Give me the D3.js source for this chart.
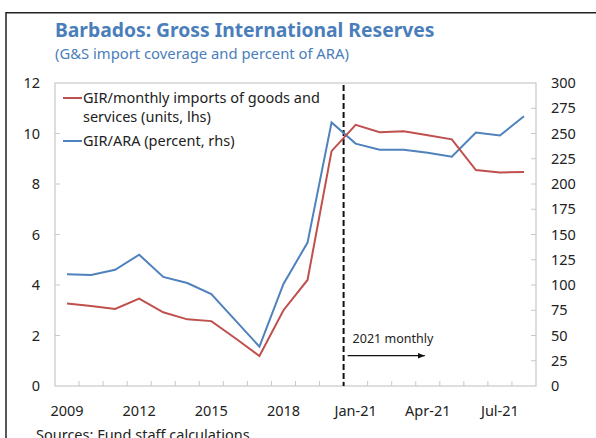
<!DOCTYPE html>
<html>
<head>
<meta charset="utf-8">
<script src="https://cdn.jsdelivr.net/npm/d3@7"></script>
<style>
  body { margin: 0; background: #fff; }
  svg { display: block; font-family: "Noto Sans", "Open Sans", sans-serif; }
</style>
</head>
<body>
<div id="chart"></div>
<script>
var categories = ["2009", "2010", "2011", "2012", "2013", "2014", "2015", "2016", "2017", "2018", "2019", "2020",
  "Jan-21", "Feb-21", "Mar-21", "Apr-21", "May-21", "Jun-21", "Jul-21", "Aug-21"];
var tickLabels = ["2009", "2012", "2015", "2018", "Jan-21", "Apr-21", "Jul-21"];

// GIR / monthly imports of goods and services (units, lhs)
var importCover = [3.27, 3.17, 3.05, 3.46, 2.92, 2.64, 2.57, 1.89, 1.19, 3.0, 4.2, 9.3,
  10.34, 10.05, 10.09, 9.93, 9.77, 8.55, 8.46, 8.48];
// GIR / ARA (percent, rhs)
var araPercent = [110.6, 110, 115, 130, 108, 102, 91, 65, 39, 101, 142, 261,
  240, 234, 234, 231, 227, 251, 248, 267];

var leftTicks = [0, 2, 4, 6, 8, 10, 12];
var rightTicks = [0, 25, 50, 75, 100, 125, 150, 175, 200, 225, 250, 275, 300];

var width = 596, height = 438;
var pLeft = 55, pRight = 536, pTop = 83, pBottom = 386;
var red = "#c0504d", blue = "#4f81bd";
var fs = 14.5;

var svg = d3.select("#chart").append("svg")
  .attr("width", width)
  .attr("height", height);

// outer frame (right/bottom edges run off the picture)
svg.append("path")
  .attr("d", "M6," + (height + 5) + "V12.7H" + (width + 5))
  .attr("fill", "none")
  .attr("stroke", "#222")
  .attr("stroke-width", 1.5);

var x = d3.scaleBand().domain(categories).range([pLeft, pRight]).padding(0);
var yL = d3.scaleLinear().domain([0, 12]).range([pBottom, pTop]);
var yR = d3.scaleLinear().domain([0, 300]).range([pBottom, pTop]);
function cx(d) { return x(d) + x.bandwidth() / 2; }

// title
svg.append("text")
  .attr("x", 55).attr("y", 37)
  .attr("fill", "#4a7ebb")
  .attr("font-weight", "bold")
  .attr("font-size", 19.3)
  .text("Barbados: Gross International Reserves");
svg.append("text")
  .attr("x", 55).attr("y", 59)
  .attr("fill", "#4a7ebb")
  .attr("font-size", 14.8)
  .text("(G&S import coverage and percent of ARA)");

// plot frame
svg.append("rect")
  .attr("x", pLeft).attr("y", pTop)
  .attr("width", pRight - pLeft).attr("height", pBottom - pTop)
  .attr("fill", "none")
  .attr("stroke", "#c8c8c8")
  .attr("stroke-width", 1.2);

// left ticks (inward)
svg.selectAll("line.yl")
  .data(leftTicks.slice(1, -1))
  .enter().append("line")
  .attr("class", "yl")
  .attr("x1", pLeft).attr("x2", pLeft + 5)
  .attr("y1", yL).attr("y2", yL)
  .attr("stroke", "#c8c8c8");
svg.selectAll("text.yl")
  .data(leftTicks)
  .enter().append("text")
  .attr("class", "yl")
  .attr("x", 40)
  .attr("y", yL)
  .attr("dy", "0.36em")
  .attr("text-anchor", "end")
  .attr("font-size", fs)
  .attr("fill", "#222")
  .text(String);

// right ticks (inward)
svg.selectAll("line.yr")
  .data(rightTicks.slice(1, -1))
  .enter().append("line")
  .attr("class", "yr")
  .attr("x1", pRight - 5).attr("x2", pRight)
  .attr("y1", yR).attr("y2", yR)
  .attr("stroke", "#c8c8c8");
svg.selectAll("text.yr")
  .data(rightTicks)
  .enter().append("text")
  .attr("class", "yr")
  .attr("x", 551)
  .attr("y", yR)
  .attr("dy", "0.36em")
  .attr("font-size", fs)
  .attr("fill", "#222")
  .text(String);

// x ticks at category boundaries
svg.selectAll("line.xt")
  .data(categories.slice(1))
  .enter().append("line")
  .attr("class", "xt")
  .attr("x1", function (d) { return x(d); })
  .attr("x2", function (d) { return x(d); })
  .attr("y1", pBottom).attr("y2", pBottom - 5)
  .attr("stroke", "#c8c8c8");
svg.selectAll("text.xt")
  .data(tickLabels)
  .enter().append("text")
  .attr("class", "xt")
  .attr("x", cx)
  .attr("y", 416)
  .attr("text-anchor", "middle")
  .attr("font-size", fs)
  .attr("fill", "#222")
  .text(String);

// dashed separator between annual and monthly data
var sep = x("Jan-21");
svg.append("line")
  .attr("x1", sep).attr("x2", sep)
  .attr("y1", pTop + 2).attr("y2", pBottom)
  .attr("stroke", "#111")
  .attr("stroke-width", 2)
  .attr("stroke-dasharray", "6,3");

// lines
var lineL = d3.line()
  .x(function (d, i) { return cx(categories[i]); })
  .y(function (d) { return yL(d); });
var lineR = d3.line()
  .x(function (d, i) { return cx(categories[i]); })
  .y(function (d) { return yR(d); });

svg.append("path")
  .datum(araPercent)
  .attr("d", lineR)
  .attr("fill", "none")
  .attr("stroke", blue)
  .attr("stroke-width", 2);
svg.append("path")
  .datum(importCover)
  .attr("d", lineL)
  .attr("fill", "none")
  .attr("stroke", red)
  .attr("stroke-width", 2);

// legend
var legend = [
  { color: red, lines: ["GIR/monthly imports of goods and", "services (units, lhs)"], y: 98 },
  { color: blue, lines: ["GIR/ARA (percent, rhs)"], y: 141 }
];
legend.forEach(function (l) {
  svg.append("line")
    .attr("x1", 63).attr("x2", 82)
    .attr("y1", l.y).attr("y2", l.y)
    .attr("stroke", l.color)
    .attr("stroke-width", 2);
  l.lines.forEach(function (t, i) {
    svg.append("text")
      .attr("x", 83)
      .attr("y", l.y + 5 + i * 19)
      .attr("font-size", fs)
      .attr("fill", "#222")
      .text(t);
  });
});

// annotation
svg.append("defs").append("marker")
  .attr("id", "arrow")
  .attr("viewBox", "0 0 10 10")
  .attr("refX", 10).attr("refY", 5)
  .attr("markerWidth", 6).attr("markerHeight", 6)
  .attr("orient", "auto")
  .append("path")
  .attr("d", "M0,1L10,5L0,9Z")
  .attr("fill", "#111");
svg.append("text")
  .attr("x", sep + 9)
  .attr("y", yL(1.7))
  .attr("font-size", 12.5)
  .attr("fill", "#222")
  .text("2021 monthly");
svg.append("line")
  .attr("x1", sep + 4)
  .attr("x2", cx("Apr-21") - 3)
  .attr("y1", yL(1.2)).attr("y2", yL(1.2))
  .attr("stroke", "#111")
  .attr("stroke-width", 1.2)
  .attr("marker-end", "url(#arrow)");

// source note (cut off at the bottom edge)
svg.append("text")
  .attr("x", 36)
  .attr("y", 440)
  .attr("font-size", fs)
  .attr("fill", "#222")
  .text("Sources: Fund staff calculations.");
</script>
</body>
</html>
